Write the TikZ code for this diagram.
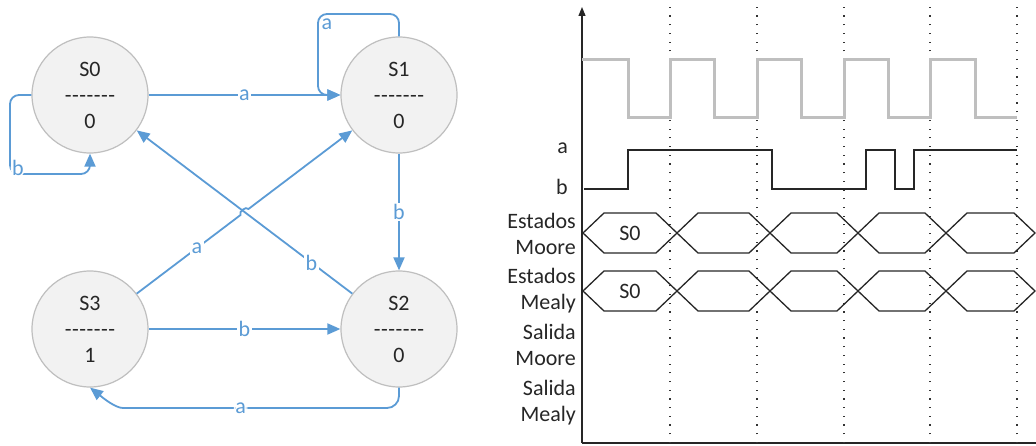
\documentclass[tikz,border=0pt]{standalone}
\usepackage{fontspec}
\setmainfont{Carlito}
\usetikzlibrary{arrows.meta,calc}
\definecolor{B}{RGB}{91,155,213}
\definecolor{F}{RGB}{242,242,242}
\definecolor{G}{RGB}{191,191,191}
\newcommand{\guiones}{-\kern0.5pt-\kern0.5pt-\kern0.5pt-\kern0.5pt-\kern0.5pt-\kern0.5pt-}
\tikzset{
  estado/.style={circle, draw=G, line width=1.2pt, fill=F, minimum size=116pt,
    align=center, text=black!85, font=\fontsize{22}{26}\selectfont},
  trans/.style={draw=B, line width=1.8pt, -{Triangle[length=13pt,width=11pt]}},
  etq/.style={fill=white, inner sep=1.5pt, text=B, font=\fontsize{22}{26}\selectfont},
  reloj/.style={G, line width=3pt},
  senal/.style={black!85, line width=1.3pt},
  guia/.style={black!80, line width=1.2pt, dash pattern=on 1.2pt off 7.5pt},
  rotulo/.style={anchor=east, align=right, inner sep=0pt, text=black!85,
    font=\fontsize{22}{26}\selectfont},
  texto/.style={text=black!85, font=\fontsize{22}{26}\selectfont}
}
\begin{document}
\begin{tikzpicture}[x=1pt,y=1pt]
  \useasboundingbox (0,0) rectangle (1036,445);

  %Estados de la maquina
  \node[estado] (s0) at (90,350) {S0\\\guiones\\0};
  \node[estado] (s1) at (399,350) {S1\\\guiones\\0};
  \node[estado] (s3) at (90,116) {S3\\\guiones\\1};
  \node[estado] (s2) at (399,116) {S2\\\guiones\\0};

  %Transiciones rectas
  \draw[trans] (s0) -- node[etq]{a} (s1);
  \draw[trans] (s1) -- node[etq]{b} (s2);
  \draw[trans] (s3) -- node[etq]{b} (s2);
  \draw[trans] (s2) -- node[etq,pos=0.19]{b} (s0);

  %S3 a S1, con salto en el cruce
  \coordinate (cruce) at ($(s3)!0.5!(s1)$);
  \coordinate (saltoA) at ($(cruce)!5pt!(s3)$);
  \coordinate (saltoB) at ($(cruce)!5pt!(s1)$);
  \draw[trans] (s3) -- node[etq,pos=0.58]{a} (saltoA) to[bend left=90] (saltoB) -- (s1);

  %Lazos
  \draw[trans,rounded corners=9pt] (s0.west) -- (10,350) -- (10,271)
    node[etq,xshift=8pt,yshift=6pt]{b} -- (90,271) -- (s0.south);
  \draw[trans,rounded corners=9pt] (s1.north) -- (399,431) -- (318,431)
    node[etq,xshift=9pt,yshift=-10pt]{a} -- (318,350) -- (s1.west);

  %S2 a S3 por abajo
  \draw[trans,rounded corners=12pt] (s2.south) |- node[etq,pos=0.8]{a} (135,37)
    [sharp corners] .. controls (115,37) and (102,48) .. (s3.south);

  %Ejes del cronograma
  \coordinate (origen) at (582,2);
  \draw[black!85, line width=1.2pt, -{Triangle[length=9pt,width=7pt]}] (origen) -- (582,438);
  \draw[black!85, line width=1.2pt, -{Triangle[length=9pt,width=7pt]}] (origen) -- (1045,2);

  %Lineas punteadas
  \foreach \x in {670,757,844,930,1017}
    \draw[guia] (\x,2) -- (\x,440);

  %Reloj
  \draw[reloj] (582,385) -| (628,327) -| (670,385) -| (714,327) -| (757,385) -| (801,327)
    -| (844,385) -| (888,327) -| (930,385) -| (975,327) -- (1017,327);

  %Entradas a y b
  \draw[senal] (584,256) -| (628,295) -| (772,256) -| (866,295) -| (895,256) -| (914,295) -- (1017,295);

  %Estados Moore y Mealy
  \foreach \l/\r in {583/677,677/770,770/858,858/946,946/1035}{
    \draw[senal] (\l,212) -- (\l+21,232) -- (\r-21,232) -- (\r,212) -- (\r-21,192) -- (\l+21,192) -- cycle;
    \draw[senal] (\l,154) -- (\l+21,174) -- (\r-21,174) -- (\r,154) -- (\r-21,134) -- (\l+21,134) -- cycle;
  }
  \node[texto] (moore0) at (630,212) {S0};
  \node[texto] (mealy0) at (630,154) {S0};

  %Rotulos
  \node[rotulo] (ra) at (568,297) {a};
  \node[rotulo] (rb) at (568,258) {b};
  \node[rotulo] (rEMo) at (576,211) {Estados\\Moore};
  \node[rotulo] (rEMe) at (576,154) {Estados\\Mealy};
  \node[rotulo] (rSMo) at (576,100) {Salida\\Moore};
  \node[rotulo] (rSMe) at (576,42) {Salida\\Mealy};
\end{tikzpicture}
\end{document}
